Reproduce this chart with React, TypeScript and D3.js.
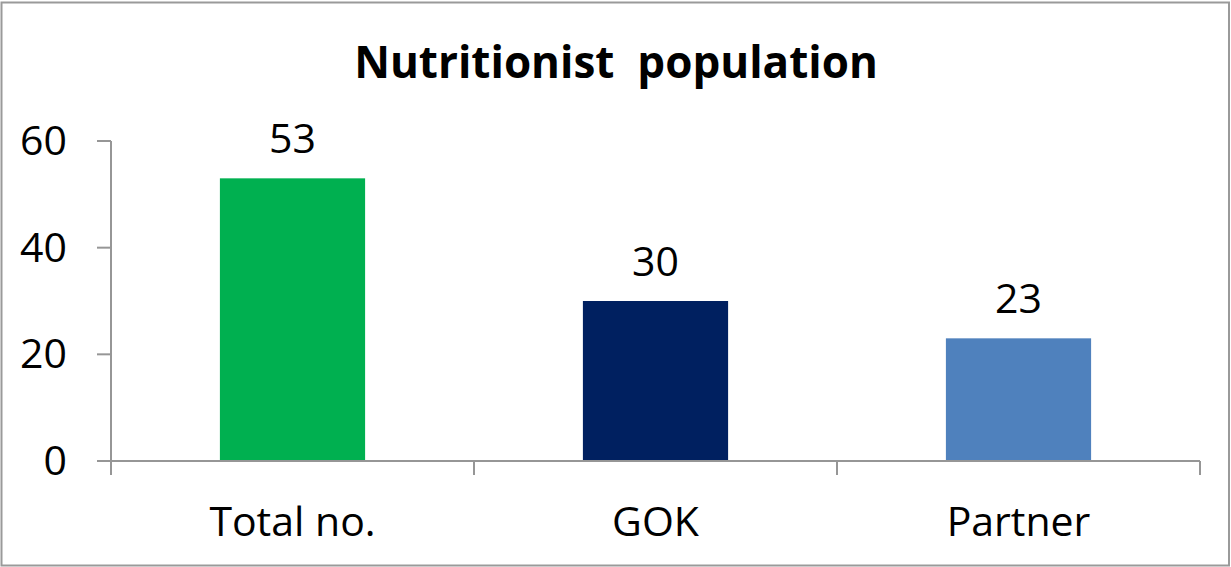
import React from "react";
import * as d3 from "d3";

const categories = ["Total no.", "GOK", "Partner"];
const values = [53, 30, 23];
const barColors = ["#00B050", "#002060", "#4F81BD"];
const yTicks = [0, 20, 40, 60];
const title = "Nutritionist  population";

const W = 1231;
const H = 567;
const margin = { left: 111, right: 31, top: 141, bottom: 106 };
const font = "'Open Sans', 'Liberation Sans', sans-serif";

export default function App() {
  const x = d3
    .scaleBand<string>()
    .domain(categories)
    .range([margin.left, W - margin.right])
    .padding(0);
  const y = d3
    .scaleLinear()
    .domain([0, 60])
    .range([H - margin.bottom, margin.top]);
  const bw = x.bandwidth() * 0.4;
  const axisColor = "#969696";
  const y0 = y(0);
  const bounds = [...categories.map((c) => x(c)!), x.range()[1]];

  return (
    <svg
      width={W}
      height={H}
      style={{ position: "absolute", left: 0, top: 0, background: "#fff" }}
      fontFamily={font}
    >
      <rect x={1.5} y={2.5} width={W - 3.5} height={H - 4} fill="#fff" stroke="#9a9a9a" strokeWidth={2} />
      <text
        x={616}
        y={78}
        textAnchor="middle"
        fontSize={44}
        fontWeight="bold"
        fill="#000"
        style={{ whiteSpace: "pre" }}
      >
        {title}
      </text>

      {categories.map((c, i) => {
        const cx = x(c)! + x.bandwidth() / 2;
        return (
          <g key={c}>
            <rect x={cx - bw / 2} y={y(values[i])} width={bw} height={y0 - y(values[i])} fill={barColors[i]} />
            <text x={cx} y={y(values[i]) - 25} textAnchor="middle" fontSize={41} fill="#000">
              {values[i]}
            </text>
            <text x={cx} y={536} textAnchor="middle" fontSize={41} fill="#000">
              {c}
            </text>
          </g>
        );
      })}

      {/* y axis */}
      <line x1={margin.left} x2={margin.left} y1={y(60)} y2={y0} stroke={axisColor} strokeWidth={2} />
      {yTicks.map((t) => (
        <g key={t}>
          <line x1={margin.left - 14} x2={margin.left} y1={y(t)} y2={y(t)} stroke={axisColor} strokeWidth={2} />
          <text x={67} y={y(t) + 14} textAnchor="end" fontSize={41} fill="#000">
            {t}
          </text>
        </g>
      ))}

      {/* x axis */}
      <line x1={margin.left - 14} x2={x.range()[1]} y1={y0} y2={y0} stroke={axisColor} strokeWidth={2} />
      {bounds.map((b, i) => (
        <line key={i} x1={b} x2={b} y1={y0} y2={y0 + 14} stroke={axisColor} strokeWidth={2} />
      ))}
    </svg>
  );
}
